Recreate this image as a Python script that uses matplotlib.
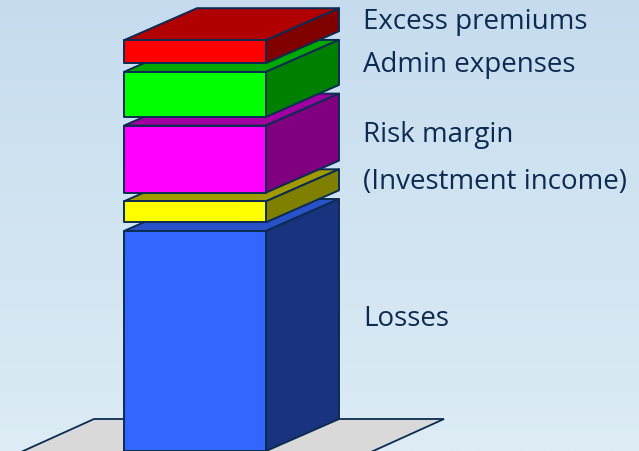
"""
Stacked 3D block diagram of what a premium is made of:
losses, investment income offset, risk margin, admin expenses and excess premiums.
Output: out.png
"""

import numpy as np
import matplotlib.pyplot as plt
from matplotlib.patches import Polygon, Rectangle

# block heights, bottom to top (drawing units)
COMPONENTS = ["Losses", "(Investment income)", "Risk margin", "Admin expenses", "Excess premiums"]
HEIGHTS = [220, 21, 67, 45, 23]
GAP = 8.7

# front / top / side shades for each block
FRONT = ["#3366ff", "#ffff00", "#ff00ff", "#00ff00", "#ff0000"]
TOP = ["#2952c8", "#a09a00", "#a000a0", "#00a800", "#b00000"]
SIDE = ["#1a337f", "#808000", "#800080", "#008000", "#800000"]

# label baselines (drawing units, y up)
LABEL_Y = [125, 262, 309, 379, 422]

EDGE = "#0b2c52"
TEXT = "#0d2b52"

W, H = 639, 451
X0, X1 = 124, 266          # front face
DX, DY = 73, 32            # depth offset

fig = plt.figure(figsize=(W / 100, H / 100), dpi=100)
ax = fig.add_axes([0, 0, 1, 1])
ax.set_xlim(0, W)
ax.set_ylim(0, H)
ax.axis("off")

# soft vertical background gradient
grad = np.linspace(0, 1, 256)[:, None]
top_c = np.array([198, 220, 238]) / 255
bot_c = np.array([221, 236, 245]) / 255
bg = top_c[None, None, :] * (1 - grad[..., None]) + bot_c[None, None, :] * grad[..., None]
bg = np.repeat(bg, 2, axis=1)
ax.imshow(bg, extent=[0, W, 0, H], origin="upper", aspect="auto", zorder=0)

# floor slab
floor = Polygon([(21, -1), (371, -1), (371 + DX, DY), (21 + DX, DY)], closed=True,
                facecolor="#d9d9d9", edgecolor=EDGE, lw=1.3, zorder=1)
ax.add_patch(floor)

y = 0
for i, h in enumerate(HEIGHTS):
    y0, y1 = y, y + h
    z = 2 + i
    ax.add_patch(Polygon([(X0, y1), (X1, y1), (X1 + DX, y1 + DY), (X0 + DX, y1 + DY)],
                         closed=True, facecolor=TOP[i], edgecolor=EDGE, lw=1.4,
                         joinstyle="round", zorder=z))
    ax.add_patch(Polygon([(X1, y0), (X1 + DX, y0 + DY), (X1 + DX, y1 + DY), (X1, y1)],
                         closed=True, facecolor=SIDE[i], edgecolor=EDGE, lw=1.4,
                         joinstyle="round", zorder=z))
    ax.add_patch(Rectangle((X0, y0), X1 - X0, h, facecolor=FRONT[i], edgecolor=EDGE,
                           lw=1.4, joinstyle="round", zorder=z))
    y = y1 + GAP

for name, ly in zip(COMPONENTS, LABEL_Y):
    ax.text(363, ly, name, fontsize=20, family=["Open Sans", "DejaVu Sans"], color=TEXT,
            ha="left", va="baseline", zorder=10)

fig.savefig("out.png", dpi=100)
